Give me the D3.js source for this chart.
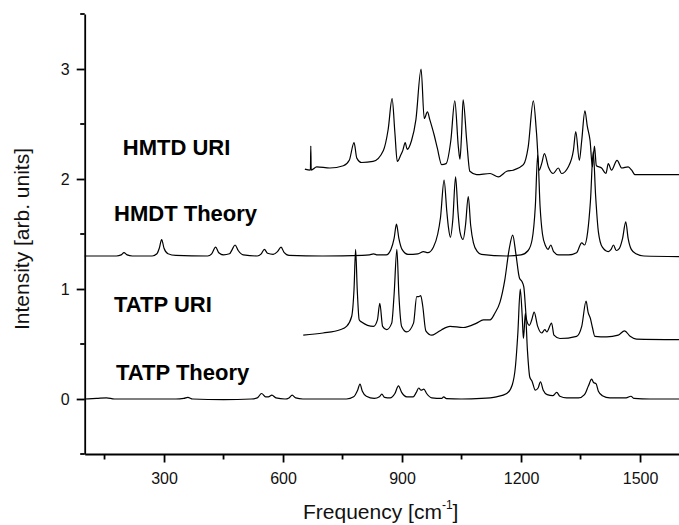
<!DOCTYPE html>
<html>
<head>
<meta charset="utf-8">
<script src="https://cdn.jsdelivr.net/npm/d3@7"></script>
<style>
  body { margin: 0; background: #fff; }
  text { font-family: "Liberation Sans", Arial, Helvetica, sans-serif; }
</style>
</head>
<body>
<div id="chart"></div>
<script>
// Spectra: [frequency cm-1, intensity (offset included)]
const tatpTheory = [
  [100,0.0],[130,0.005],[155,0.01],[175,0.0],[250,0.0],[330,0.0],[350,0.005],[360,0.015],[372,0.0],
  [450,-0.005],[520,0.0],[535,0.01],[546,0.05],[556,0.02],[563,0.02],[572,0.035],[582,0.01],[605,0.0],
  [615,0.01],[623,0.035],[632,0.01],[650,0.0],[760,0.0],[778,0.02],[788,0.08],[794,0.135],[800,0.07],
  [810,0.025],[830,0.005],[843,0.02],[849,0.045],[856,0.015],[870,0.01],[882,0.05],[891,0.12],[899,0.06],
  [912,0.02],[928,0.02],[936,0.06],[942,0.10],[948,0.08],[955,0.09],[962,0.05],[975,0.01],[1000,0.005],
  [1005,0.02],[1012,0.003],[1050,0.0],[1100,0.005],[1138,0.02],[1164,0.05],[1178,0.13],[1186,0.3],
  [1192,0.6],[1198,1.0],[1203,0.75],[1206,0.55],[1211,0.78],[1216,0.45],[1222,0.2],[1228,0.16],
  [1236,0.08],[1243,0.1],[1249,0.157],[1256,0.08],[1266,0.04],[1280,0.03],[1290,0.06],[1298,0.025],
  [1315,0.01],[1345,0.01],[1360,0.04],[1370,0.12],[1378,0.18],[1383,0.15],[1389,0.14],[1395,0.07],
  [1405,0.03],[1424,0.01],[1465,0.01],[1477,0.025],[1485,0.005],[1525,0.0],[1600,0.0]
];

const tatpUri = [
  [651,0.58],[701,0.60],[744,0.63],[760,0.66],[773,0.75],[779,1.0],[783,1.36],[787,1.0],[792,0.72],
  [798,0.70],[828,0.66],[838,0.72],[844,0.87],[851,0.66],[861,0.63],[874,0.69],[880,0.95],[887,1.36],
  [892,0.95],[899,0.66],[912,0.61],[929,0.69],[937,0.93],[942,0.93],[947,0.94],[952,0.85],[960,0.62],
  [975,0.58],[987,0.60],[1000,0.63],[1021,0.66],[1054,0.65],[1088,0.69],[1105,0.72],[1122,0.72],
  [1134,0.78],[1147,0.88],[1159,1.08],[1170,1.36],[1179,1.49],[1187,1.32],[1196,1.10],[1202,1.07],
  [1207,1.02],[1214,0.72],[1221,0.67],[1227,0.72],[1233,0.79],[1242,0.66],[1252,0.60],[1260,0.63],
  [1265,0.61],[1277,0.69],[1283,0.58],[1298,0.55],[1340,0.57],[1353,0.66],[1364,0.89],[1369,0.79],
  [1375,0.73],[1380,0.65],[1386,0.57],[1416,0.565],[1445,0.58],[1461,0.62],[1475,0.57],[1491,0.545],
  [1600,0.54]
];

const hmdtTheory = [
  [100,1.30],[180,1.30],[192,1.31],[199,1.33],[207,1.31],[220,1.30],[270,1.30],[282,1.32],[288,1.37],
  [294,1.45],[300,1.37],[310,1.32],[330,1.305],[410,1.30],[420,1.32],[430,1.38],[438,1.33],[450,1.31],
  [465,1.32],[472,1.36],[479,1.40],[487,1.35],[500,1.31],[535,1.30],[545,1.32],[553,1.36],[561,1.325],
  [575,1.315],[586,1.34],[595,1.38],[603,1.33],[615,1.305],[700,1.30],[800,1.305],[818,1.31],[828,1.32],
  [838,1.31],[860,1.31],[872,1.36],[880,1.46],[886,1.59],[892,1.46],[900,1.36],[915,1.315],[940,1.32],
  [954,1.34],[965,1.33],[979,1.38],[990,1.50],[997,1.65],[1006,1.99],[1013,1.70],[1017,1.56],[1022,1.47],
  [1028,1.63],[1035,2.02],[1041,1.70],[1046,1.52],[1054,1.45],[1060,1.58],[1067,1.84],[1073,1.58],
  [1080,1.42],[1090,1.34],[1100,1.315],[1163,1.30],[1200,1.31],[1218,1.35],[1228,1.45],[1236,1.75],
  [1242,2.22],[1248,1.75],[1254,1.50],[1262,1.39],[1268,1.36],[1275,1.40],[1282,1.34],[1295,1.31],
  [1320,1.31],[1340,1.33],[1353,1.42],[1360,1.40],[1368,1.52],[1375,1.80],[1382,2.25],[1388,1.85],
  [1395,1.52],[1405,1.38],[1420,1.34],[1427,1.36],[1433,1.40],[1440,1.35],[1448,1.37],[1456,1.46],
  [1464,1.61],[1470,1.46],[1478,1.36],[1490,1.32],[1510,1.30],[1600,1.295]
];

const hmtdUri = [
  [655,2.09],[669,2.08],[670,2.30],[671,2.08],[685,2.11],[718,2.10],[752,2.12],[767,2.17],[779,2.33],
  [786,2.19],[798,2.15],[827,2.16],[853,2.26],[865,2.45],[875,2.73],[882,2.42],[888,2.16],[897,2.22],
  [902,2.26],[908,2.33],[913,2.27],[924,2.35],[935,2.54],[948,3.0],[956,2.55],[964,2.61],[970,2.54],
  [981,2.40],[989,2.28],[1000,2.13],[1011,2.14],[1023,2.35],[1033,2.71],[1042,2.29],[1046,2.18],
  [1050,2.40],[1054,2.72],[1063,2.35],[1071,2.07],[1088,2.04],[1122,2.05],[1143,2.02],[1164,2.07],
  [1180,2.08],[1206,2.13],[1218,2.29],[1231,2.71],[1239,2.42],[1246,2.08],[1252,2.14],[1259,2.23],
  [1269,2.11],[1281,2.05],[1294,2.10],[1302,2.05],[1319,2.11],[1332,2.26],[1338,2.43],[1347,2.17],
  [1353,2.35],[1361,2.62],[1367,2.48],[1374,2.35],[1380,2.11],[1385,2.30],[1390,2.12],[1403,2.10],
  [1414,2.05],[1420,2.14],[1428,2.08],[1442,2.17],[1454,2.10],[1470,2.11],[1479,2.08],[1487,2.04],
  [1600,2.04]
];

const seriesNames = ["HMTD URI", "HMDT Theory", "TATP URI", "TATP Theory"];
const xTicks = [300, 600, 900, 1200, 1500];
const xMinorTicks = [150, 450, 750, 1050, 1350];
const yTicks = [0, 1, 2, 3];
const yMinorTicks = [-0.5, 0.5, 1.5, 2.5, 3.5];

const width = 679, height = 525;
const margin = {left: 84.7, right: -0.7, top: 14, bottom: 71};

const svg = d3.select("#chart").append("svg")
  .attr("width", width)
  .attr("height", height);

const x = d3.scaleLinear().domain([100, 1600]).range([margin.left, width - margin.right]);
const y = d3.scaleLinear().domain([-0.5, 3.5]).range([height - margin.bottom, margin.top]);

// spectra
const line = d3.line()
  .x(d => x(d[0]))
  .y(d => y(d[1]))
  .curve(d3.curveMonotoneX);

[hmtdUri, hmdtTheory, tatpUri, tatpTheory].forEach(s => {
  svg.append("path")
    .datum(s)
    .attr("fill", "none")
    .attr("stroke", "#000")
    .attr("stroke-width", 1.2)
    .attr("stroke-linejoin", "round")
    .attr("d", line);
});

// series labels (placed in data space)
const labelPos = [[196, 2.22], [174, 1.62], [174, 0.795], [179, 0.173]];
svg.selectAll(".slabel")
  .data(seriesNames)
  .enter().append("text")
  .attr("x", (d, i) => x(labelPos[i][0]))
  .attr("y", (d, i) => y(labelPos[i][1]))
  .attr("font-size", 22)
  .attr("font-weight", "bold")
  .text(d => d);

// axes
const xAxis = svg.append("g")
  .attr("transform", `translate(0,${height - margin.bottom})`)
  .call(d3.axisBottom(x).tickValues(xTicks).tickSize(8.5).tickSizeOuter(0).tickPadding(10).tickFormat(d3.format("d")));
xAxis.append("g").selectAll("line")
  .data(xMinorTicks).enter().append("line")
  .attr("x1", d => x(d)).attr("x2", d => x(d))
  .attr("y1", 0).attr("y2", 5.5)
  .attr("stroke", "#000");

const yAxis = svg.append("g")
  .attr("transform", `translate(${margin.left},0)`)
  .call(d3.axisLeft(y).tickValues(yTicks).tickSize(8).tickSizeOuter(0).tickPadding(7).tickFormat(d3.format("d")));
yAxis.append("g").selectAll("line")
  .data(yMinorTicks).enter().append("line")
  .attr("x1", 0).attr("x2", -4.5)
  .attr("y1", d => y(d)).attr("y2", d => y(d))
  .attr("stroke", "#000");

svg.selectAll(".domain, .tick line, g > g > line")
  .attr("stroke", "#000")
  .attr("stroke-width", 1.8);
svg.selectAll(".tick text")
  .attr("font-size", 16)
  .attr("fill", "#111");

// axis titles
const xt = svg.append("text")
  .attr("x", 303)
  .attr("y", 519)
  .attr("font-size", 21)
  .attr("fill", "#111");
xt.append("tspan").text("Frequency [cm");
xt.append("tspan").attr("font-size", 12).attr("dy", -10).text("-1");
xt.append("tspan").attr("dy", 10).text("]");

svg.append("text")
  .attr("transform", "translate(28.5,239) rotate(-90)")
  .attr("text-anchor", "middle")
  .attr("font-size", 21)
  .attr("fill", "#111")
  .text("Intensity [arb. units]");
</script>
</body>
</html>
